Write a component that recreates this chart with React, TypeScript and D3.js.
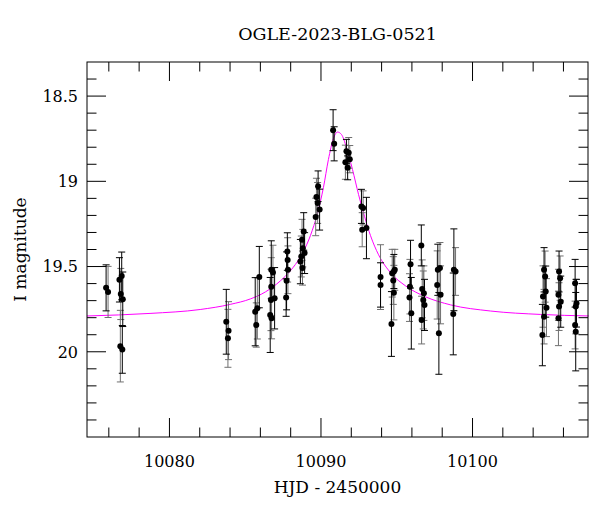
import React from "react";
import * as d3 from "d3";

// Black error-bar dataset
const blackT = [10075.82, 10076.70, 10076.85, 10076.92, 10076.89, 10083.75, 10085.93, 10085.66, 10086.72, 10086.94, 10086.65, 10087.78, 10087.73, 10087.70, 10088.86, 10088.92, 10088.64, 10089.81, 10089.91, 10090.80, 10090.87, 10091.68, 10091.76, 10092.67, 10093.00, 10093.93, 10094.81, 10094.65, 10095.91, 10095.96, 10096.62, 10096.83, 10097.71, 10097.78, 10098.77, 10098.73, 10104.72, 10104.83, 10104.61, 10105.71, 10105.82, 10106.77, 10106.86, 10106.81];
const blackMag = [19.625, 19.578, 19.555, 19.692, 19.986, 19.824, 19.562, 19.765, 19.519, 19.686, 19.784, 19.412, 19.584, 19.682, 19.294, 19.421, 19.471, 19.029, 19.166, 18.70, 18.78, 18.824, 18.921, 19.147, 19.274, 19.608, 19.529, 19.837, 19.486, 19.774, 19.376, 19.725, 19.519, 19.892, 19.519, 19.778, 19.519, 19.647, 19.902, 19.529, 19.706, 19.598, 19.715, 19.882];
const blackErr = [0.135, 0.13, 0.14, 0.16, 0.14, 0.19, 0.18, 0.20, 0.17, 0.18, 0.22, 0.11, 0.17, 0.11, 0.11, 0.12, 0.13, 0.09, 0.12, 0.12, 0.10, 0.07, 0.07, 0.10, 0.18, 0.13, 0.10, 0.19, 0.14, 0.21, 0.12, 0.15, 0.15, 0.24, 0.24, 0.24, 0.13, 0.15, 0.18, 0.12, 0.15, 0.14, 0.14, 0.23];

// Gray error-bar dataset
const grayT = [10075.95, 10076.79, 10076.76, 10083.90, 10083.86, 10085.73, 10085.80, 10086.83, 10086.70, 10086.72, 10086.74, 10087.80, 10087.82, 10088.75, 10088.80, 10088.70, 10088.78, 10089.70, 10089.65, 10089.78, 10091.83, 10091.61, 10091.90, 10092.78, 10092.72, 10093.93, 10094.70, 10094.77, 10094.87, 10094.81, 10095.87, 10095.84, 10096.68, 10096.79, 10096.75, 10096.64, 10097.85, 10097.67, 10097.89, 10098.88, 10104.79, 10104.65, 10104.88, 10104.72, 10105.78, 10105.67, 10105.71, 10105.67, 10106.81, 10106.77];
const grayMag = [19.649, 19.661, 19.967, 19.876, 19.921, 19.843, 19.745, 19.535, 19.696, 19.618, 19.804, 19.461, 19.519, 19.343, 19.392, 19.441, 19.509, 19.092, 19.209, 19.127, 18.833, 18.888, 18.870, 19.156, 19.284, 19.562, 19.539, 19.582, 19.519, 19.653, 19.618, 19.682, 19.631, 19.656, 19.696, 19.814, 19.509, 19.608, 19.666, 19.529, 19.559, 19.676, 19.741, 19.794, 19.568, 19.666, 19.735, 19.804, 19.735, 19.843];
const grayErr = [0.15, 0.15, 0.21, 0.17, 0.17, 0.13, 0.18, 0.16, 0.18, 0.17, 0.12, 0.13, 0.14, 0.12, 0.11, 0.12, 0.10, 0.11, 0.11, 0.12, 0.09, 0.10, 0.08, 0.10, 0.10, 0.19, 0.14, 0.14, 0.12, 0.16, 0.16, 0.14, 0.17, 0.16, 0.17, 0.14, 0.15, 0.20, 0.17, 0.14, 0.15, 0.18, 0.17, 0.16, 0.13, 0.15, 0.14, 0.16, 0.16, 0.14];

// Model curve
const modelT = [10074.56, 10078.72, 10082.03, 10084.01, 10085.34, 10086.33, 10087.32, 10087.98, 10088.64, 10089.30, 10089.76, 10090.16, 10090.49, 10090.82, 10091.09, 10091.35, 10091.68, 10092.08, 10092.48, 10092.88, 10093.27, 10093.80, 10094.60, 10095.59, 10096.91, 10098.56, 10101.20, 10104.50, 10107.67];
const modelMag = [19.790, 19.775, 19.752, 19.722, 19.690, 19.649, 19.584, 19.525, 19.443, 19.319, 19.190, 19.037, 18.872, 18.749, 18.711, 18.725, 18.802, 18.931, 19.078, 19.208, 19.319, 19.431, 19.537, 19.614, 19.678, 19.725, 19.761, 19.781, 19.790];

const xMajor = [10080, 10090, 10100];
const yMajor = [18.5, 19, 19.5, 20];
const yMajorLabels = ["18.5", "19", "19.5", "20"];

const title = "OGLE-2023-BLG-0521";
const xTitle = "HJD - 2450000";
const yTitle = "I magnitude";

const W = 600, H = 512;
const L = 87, R = 588, T = 62, B = 437;
const FONT = "'DejaVu Serif', serif";

export default function App() {
  const x = d3.scaleLinear().domain([10074.56, 10107.62]).range([L, R]);
  const y = d3.scaleLinear().domain([18.3, 20.5]).range([T, B]);

  const xMinor = d3.range(10076, 10108, 2).filter((v) => !xMajor.includes(v));
  const yMinor = d3.range(184, 205, 1).map((v) => v / 10).filter((v) => !yMajor.some((m) => Math.abs(m - v) < 1e-6));

  const line = d3
    .line<number>()
    .x((_, i) => x(modelT[i]))
    .y((d) => y(d))
    .curve(d3.curveMonotoneX);

  const majLen = 19, minLen = 9.5;

  const renderSet = (ts: number[], ms: number[], es: number[], color: string, key: string) =>
    ts.map((t, i) => {
      const cx = x(t);
      const y1 = y(ms[i] - es[i]);
      const y2 = y(ms[i] + es[i]);
      return (
        <g key={key + i} stroke={color} strokeWidth={1}>
          <line x1={cx} x2={cx} y1={y1} y2={y2} />
          <line x1={cx - 3.5} x2={cx + 3.5} y1={y1} y2={y1} />
          <line x1={cx - 3.5} x2={cx + 3.5} y1={y2} y2={y2} />
        </g>
      );
    });

  const dots = (ts: number[], ms: number[], key: string) =>
    ts.map((t, i) => <circle key={key + i} cx={x(t)} cy={y(ms[i])} r={3} fill="#000" />);

  return (
    <svg width={W} height={H} style={{ position: "absolute", left: 0, top: 0, background: "#fff" }} fontFamily={FONT}>
      <rect x={0} y={0} width={W} height={H} fill="#fff" />
      <text x={(L + R) / 2} y={40} textAnchor="middle" fontSize={17.5}>{title}</text>

      <path d={line(modelMag) || ""} fill="none" stroke="#ff00ff" strokeWidth={1} />

      {renderSet(grayT, grayMag, grayErr, "#707070", "g")}
      {renderSet(blackT, blackMag, blackErr, "#000", "b")}
      {dots(grayT, grayMag, "gd")}
      {dots(blackT, blackMag, "bd")}

      {/* ticks */}
      <g stroke="#000" strokeWidth={1}>
        {xMajor.map((v) => (
          <g key={"xm" + v}>
            <line x1={x(v)} x2={x(v)} y1={B} y2={B - majLen} />
            <line x1={x(v)} x2={x(v)} y1={T} y2={T + majLen} />
          </g>
        ))}
        {xMinor.map((v) => (
          <g key={"xn" + v}>
            <line x1={x(v)} x2={x(v)} y1={B} y2={B - minLen} />
            <line x1={x(v)} x2={x(v)} y1={T} y2={T + minLen} />
          </g>
        ))}
        {yMajor.map((v) => (
          <g key={"ym" + v}>
            <line x1={L} x2={L + majLen} y1={y(v)} y2={y(v)} />
            <line x1={R} x2={R - majLen} y1={y(v)} y2={y(v)} />
          </g>
        ))}
        {yMinor.map((v) => (
          <g key={"yn" + v}>
            <line x1={L} x2={L + minLen} y1={y(v)} y2={y(v)} />
            <line x1={R} x2={R - minLen} y1={y(v)} y2={y(v)} />
          </g>
        ))}
      </g>
      <rect x={L} y={T} width={R - L} height={B - T} fill="none" stroke="#000" strokeWidth={1} />

      {xMajor.map((v) => (
        <text key={"xl" + v} x={x(v)} y={467} textAnchor="middle" fontSize={16}>{v}</text>
      ))}
      {yMajor.map((v, i) => (
        <text key={"yl" + v} x={78} y={y(v)} dy="0.36em" textAnchor="end" fontSize={16}>{yMajorLabels[i]}</text>
      ))}
      <text x={(L + R) / 2} y={493} textAnchor="middle" fontSize={17}>{xTitle}</text>
      <text transform={`translate(26, ${(T + B) / 2}) rotate(-90)`} textAnchor="middle" fontSize={17}>{yTitle}</text>
    </svg>
  );
}
